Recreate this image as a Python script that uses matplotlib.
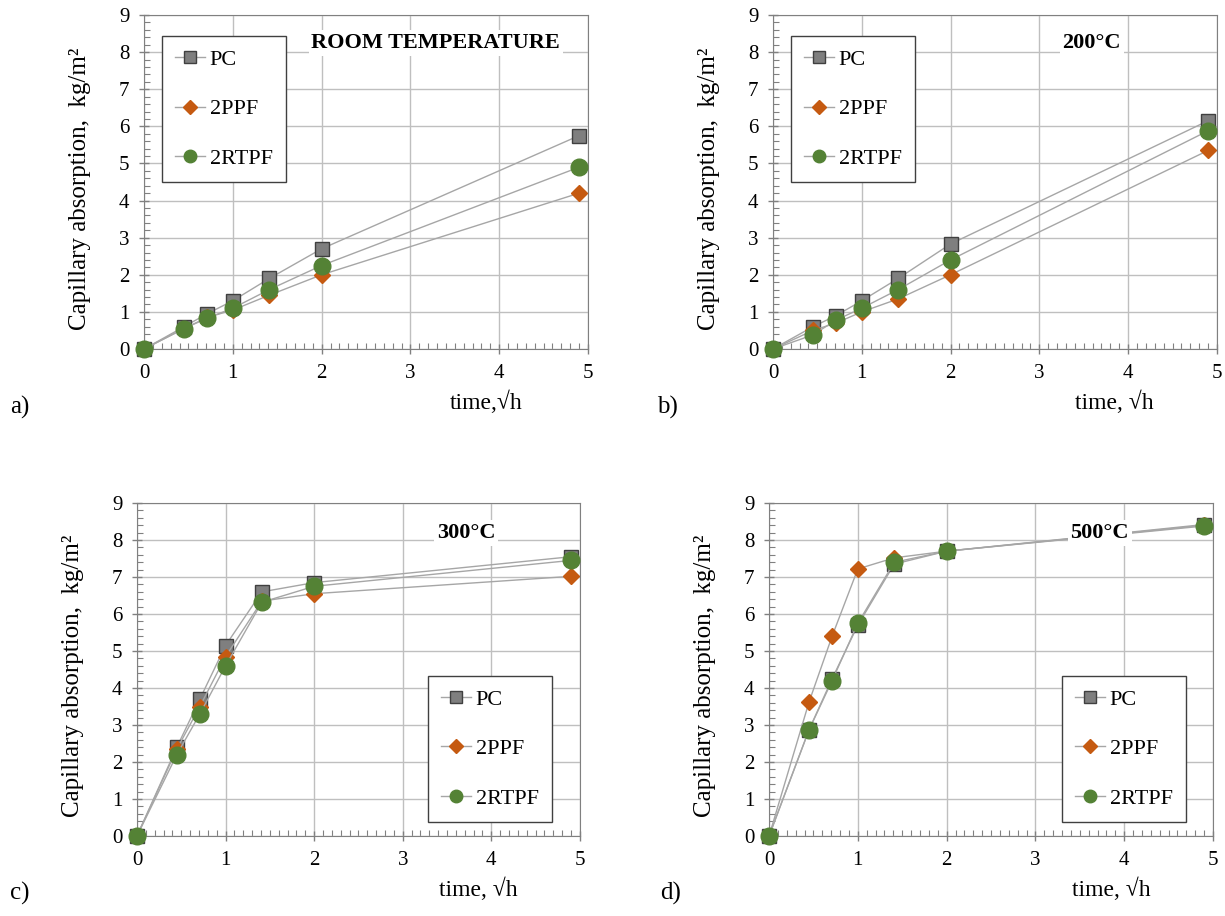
import numpy as np
import matplotlib
matplotlib.use("Agg")
import matplotlib.pyplot as plt
from matplotlib.ticker import MultipleLocator

plt.rcParams["font.family"] = ["Liberation Serif", "DejaVu Serif"]

# ==========================================
# DATA
# ==========================================

time_sqrt = [0, 0.45, 0.71, 1.0, 1.41, 2.0, 4.9]
series_names = ["PC", "2PPF", "2RTPF"]

panel_titles = ["ROOM TEMPERATURE", "200°C", "300°C", "500°C"]
panel_letters = ["a)", "b)", "c)", "d)"]

pc_room = [0, 0.60, 0.95, 1.30, 1.90, 2.70, 5.75]
ppf_room = [0, 0.55, 0.85, 1.05, 1.45, 2.00, 4.20]
rtpf_room = [0, 0.55, 0.83, 1.10, 1.60, 2.25, 4.90]

pc_200 = [0, 0.60, 0.90, 1.30, 1.90, 2.83, 6.15]
ppf_200 = [0, 0.50, 0.70, 1.00, 1.35, 2.00, 5.35]
rtpf_200 = [0, 0.38, 0.78, 1.10, 1.60, 2.40, 5.88]

pc_300 = [0, 2.40, 3.70, 5.15, 6.60, 6.85, 7.55]
ppf_300 = [0, 2.35, 3.50, 4.85, 6.35, 6.55, 7.02]
rtpf_300 = [0, 2.20, 3.30, 4.60, 6.32, 6.75, 7.45]

pc_500 = [0, 2.87, 4.25, 5.70, 7.35, 7.70, 8.40]
ppf_500 = [0, 3.62, 5.40, 7.22, 7.52, 7.70, 8.42]
rtpf_500 = [0, 2.87, 4.20, 5.75, 7.40, 7.70, 8.38]

panel_data = [
    [pc_room, ppf_room, rtpf_room],
    [pc_200, ppf_200, rtpf_200],
    [pc_300, ppf_300, rtpf_300],
    [pc_500, ppf_500, rtpf_500],
]

# ==========================================
# STYLE
# ==========================================

markers = ["s", "D", "o"]
marker_sizes = [9.5, 8, 12]
legend_marker_sizes = [8.5, 7, 9]
face_colors = ["#7f7f7f", "#c55a11", "#548235"]
edge_colors = ["#404040", "#c55a11", "#548235"]
line_color = "#a6a6a6"

# axes boxes [left, bottom, width, height] in figure fraction
boxes = [
    [0.1176, 0.619, 0.3624, 0.3646],
    [0.631, 0.619, 0.3624, 0.3646],
    [0.1118, 0.0873, 0.3616, 0.3635],
    [0.6278, 0.0873, 0.3624, 0.3635],
]
title_pos = [(0.657, 0.916), (0.718, 0.916), (0.743, 0.91), (0.745, 0.91)]
legend_anchor = [(0.0405, 0.937, "upper left"), (0.0405, 0.937, "upper left"),
                 (0.657, 0.042, "lower left"), (0.660, 0.042, "lower left")]
xlabels = ["time,\u221ah", "time, \u221ah", "time, \u221ah", "time, \u221ah"]
letter_pos = [(0.008, 0.555), (0.536, 0.555), (0.008, 0.025), (0.539, 0.025)]

# ==========================================
# PLOT
# ==========================================

fig = plt.figure(figsize=(12.25, 9.16), dpi=100)

for i in range(4):
    ax = fig.add_axes(boxes[i])
    for j in range(3):
        ax.plot(time_sqrt, panel_data[i][j], color=line_color, lw=1.0,
                marker=markers[j], ms=marker_sizes[j],
                mfc=face_colors[j], mec=edge_colors[j], mew=1.0,
                label=series_names[j], zorder=3, clip_on=False)

    ax.set_xlim(0, 5)
    ax.set_ylim(0, 9)
    ax.xaxis.set_major_locator(MultipleLocator(1))
    ax.xaxis.set_minor_locator(MultipleLocator(0.1))
    ax.yaxis.set_major_locator(MultipleLocator(1))
    ax.yaxis.set_minor_locator(MultipleLocator(0.2))
    ax.grid(True, which="major", color="#bfbfbf", lw=1.0)
    ax.tick_params(which="major", direction="inout", length=7, width=1,
                   color="#808080", labelsize=15, pad=7)
    ax.tick_params(which="minor", direction="in", length=4.5, width=0.8,
                   color="#808080")
    for s in ax.spines.values():
        s.set_color("#808080")

    ax.set_ylabel("Capillary absorption,  kg/m²", fontsize=18,
                  ha="center", va="center")
    ax.yaxis.set_label_coords(-0.144, 0.48)
    ax.set_xlabel(xlabels[i], fontsize=17)
    ax.xaxis.set_label_coords(0.77, -0.125)

    ax.text(title_pos[i][0], title_pos[i][1], panel_titles[i],
            transform=ax.transAxes, ha="center", va="center",
            fontsize=16, fontweight="bold", zorder=5,
            bbox=dict(facecolor="white", edgecolor="none", pad=2))

    lx, ly, lloc = legend_anchor[i]
    leg = ax.legend(loc=lloc, bbox_to_anchor=(lx, ly), fontsize=16,
                    frameon=True, fancybox=False, edgecolor="#404040",
                    framealpha=1, borderaxespad=0,
                    labelspacing=1.3, handlelength=1.35, handletextpad=0.2,
                    borderpad=0.6)
    leg.get_frame().set_linewidth(1.0)
    leg.set_zorder(6)
    for h, ms in zip(leg.legend_handles, legend_marker_sizes):
        h.set_markersize(ms)

    fig.text(letter_pos[i][0], letter_pos[i][1], panel_letters[i],
             fontsize=18, ha="left", va="center")

plt.savefig("out.png", dpi=100)
